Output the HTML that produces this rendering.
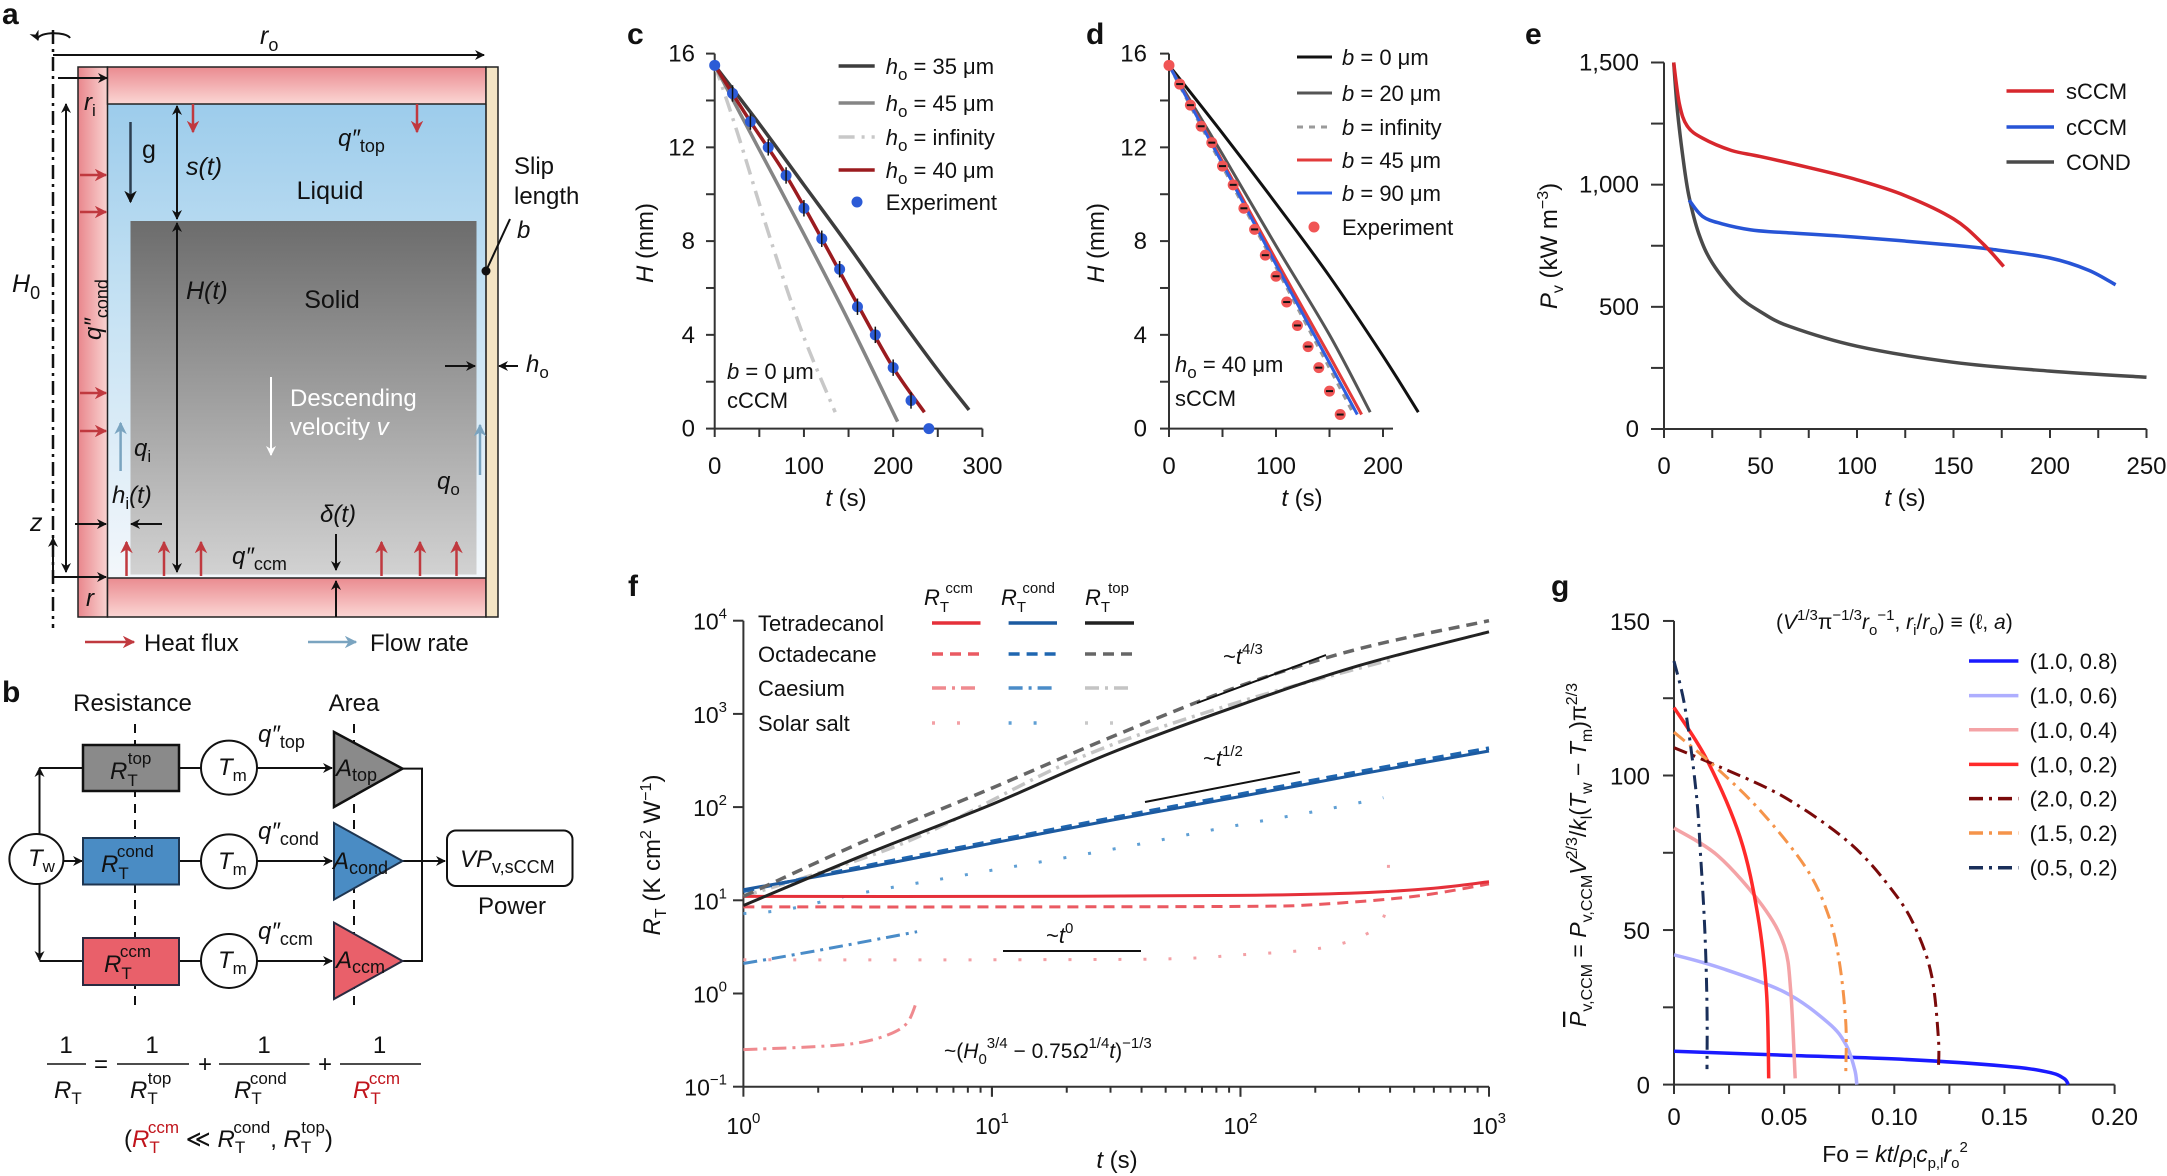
<!DOCTYPE html>
<html><head><meta charset="utf-8"><title>Figure</title>
<style>
html,body{margin:0;padding:0;background:#fff;}
svg{display:block;font-family:"Liberation Sans",Arial,sans-serif;}
text{fill:#111;}
</style></head>
<body>
<svg id="fig" xmlns="http://www.w3.org/2000/svg" width="2167" height="1176" viewBox="0 0 2167 1176">
<defs>
<linearGradient id="wallV" x1="0" x2="1" y1="0" y2="0"><stop offset="0" stop-color="#e9868c"/><stop offset="1" stop-color="#f9d3d1"/></linearGradient>
<linearGradient id="wallH" x1="0" x2="0" y1="0" y2="1"><stop offset="0" stop-color="#ea8b90"/><stop offset="1" stop-color="#fbd6d4"/></linearGradient>
<linearGradient id="liq" x1="0" x2="0" y1="0" y2="1"><stop offset="0" stop-color="#95c8ea"/><stop offset="0.45" stop-color="#c4e1f3"/><stop offset="1" stop-color="#f3f7fb"/></linearGradient>
<linearGradient id="sol" x1="0" x2="0" y1="0" y2="1"><stop offset="0" stop-color="#6c6c6c"/><stop offset="1" stop-color="#d2d2d2"/></linearGradient>
<marker id="ah" viewBox="0 0 10 10" refX="9" refY="5" markerWidth="5" markerHeight="5" orient="auto-start-reverse"><path d="M0,0 L10,5 L0,10 L3,5 z" fill="#111"/></marker>
<marker id="ahr" viewBox="0 0 10 10" refX="9" refY="5" markerWidth="5" markerHeight="5" orient="auto-start-reverse"><path d="M0,0 L10,5 L0,10 L3,5 z" fill="#c0393f"/></marker>
<marker id="ahb" viewBox="0 0 10 10" refX="9" refY="5" markerWidth="5" markerHeight="5" orient="auto-start-reverse"><path d="M0,0 L10,5 L0,10 L3,5 z" fill="#7aa4c0"/></marker>
<marker id="ahw" viewBox="0 0 10 10" refX="9" refY="5" markerWidth="5" markerHeight="5" orient="auto-start-reverse"><path d="M0,0 L10,5 L0,10 L3,5 z" fill="#fff"/></marker>
</defs>

<!-- ================= PANEL A ================= -->
<g>
<text x="2" y="24" font-size="30" font-weight="bold">a</text>
<path d="M38,40 A14,5 0 1 1 70,38" fill="none" stroke="#111" stroke-width="2" marker-start="url(#ah)"/>
<line x1="53" y1="30" x2="53" y2="628" stroke="#111" stroke-width="2.5" stroke-dasharray="14 5 3 5"/>
<line x1="53" y1="55" x2="484" y2="55" stroke="#111" stroke-width="2" marker-end="url(#ah)"/>
<text x="260" y="44" font-size="25" font-style="italic">r<tspan font-style="normal" font-size="18" dy="7">o</tspan></text>
<rect x="107" y="67" width="379" height="511" fill="url(#liq)"/>
<rect x="130.5" y="221" width="346" height="353.5" fill="url(#sol)"/>
<rect x="78" y="67" width="29.5" height="550" fill="url(#wallV)" stroke="#222" stroke-width="1.5"/>
<rect x="107.5" y="67" width="378.5" height="37" fill="url(#wallH)" stroke="#222" stroke-width="1.5"/>
<rect x="107.5" y="578" width="378.5" height="39" fill="url(#wallH)" stroke="#222" stroke-width="1.5"/>
<rect x="486" y="67" width="12" height="550" fill="#f4e4c4" stroke="#222" stroke-width="1.5"/>
<line x1="486" y1="104" x2="486" y2="578" stroke="#222" stroke-width="1.2"/>
<text x="330" y="199" font-size="25" text-anchor="middle">Liquid</text>
<text x="332" y="308" font-size="25" text-anchor="middle">Solid</text>
<text x="514" y="174" font-size="24">Slip</text>
<text x="514" y="204" font-size="24">length</text>
<text x="517" y="238" font-size="24" font-style="italic">b</text>
<line x1="510" y1="219" x2="486" y2="271" stroke="#111" stroke-width="2"/>
<circle cx="486" cy="271" r="4.5" fill="#111"/>
<text x="12" y="292" font-size="25" font-style="italic">H<tspan font-style="normal" font-size="18" dy="7">0</tspan></text>
<line x1="66" y1="104" x2="66" y2="572" stroke="#111" stroke-width="2" marker-start="url(#ah)" marker-end="url(#ah)"/>
<text transform="translate(101,340) rotate(-90)" font-size="24" font-style="italic">q″<tspan font-style="normal" font-size="18" dy="7">cond</tspan></text>
<line x1="58" y1="78" x2="107" y2="78" stroke="#111" stroke-width="2" marker-end="url(#ah)"/>
<text x="84" y="110" font-size="24" font-style="italic">r<tspan font-style="normal" font-size="17" dy="6">i</tspan></text>
<line x1="130.5" y1="122" x2="130.5" y2="202" stroke="#2c3e50" stroke-width="2.5" marker-end="url(#ah)"/>
<text x="142" y="158" font-size="25">g</text>
<line x1="177" y1="106" x2="177" y2="219" stroke="#111" stroke-width="2" marker-start="url(#ah)" marker-end="url(#ah)"/>
<text x="186" y="175" font-size="25" font-style="italic">s(t)</text>
<line x1="177" y1="223" x2="177" y2="572" stroke="#111" stroke-width="2" marker-start="url(#ah)" marker-end="url(#ah)"/>
<text x="186" y="299" font-size="25" font-style="italic">H(t)</text>
<g stroke="#c0393f" stroke-width="2.5">
<line x1="193" y1="104" x2="193" y2="132" marker-end="url(#ahr)"/><line x1="417" y1="104" x2="417" y2="132" marker-end="url(#ahr)"/>
<line x1="80" y1="175" x2="106" y2="175" marker-end="url(#ahr)"/><line x1="80" y1="212" x2="106" y2="212" marker-end="url(#ahr)"/>
<line x1="80" y1="393" x2="106" y2="393" marker-end="url(#ahr)"/><line x1="80" y1="431" x2="106" y2="431" marker-end="url(#ahr)"/>
<line x1="126.5" y1="576" x2="126.5" y2="542" marker-end="url(#ahr)"/><line x1="164" y1="576" x2="164" y2="542" marker-end="url(#ahr)"/>
<line x1="201" y1="576" x2="201" y2="542" marker-end="url(#ahr)"/><line x1="381.5" y1="576" x2="381.5" y2="542" marker-end="url(#ahr)"/>
<line x1="420" y1="576" x2="420" y2="542" marker-end="url(#ahr)"/><line x1="456.5" y1="576" x2="456.5" y2="542" marker-end="url(#ahr)"/>
</g>
<text x="338" y="146" font-size="24" font-style="italic">q″<tspan font-style="normal" font-size="18" dy="6">top</tspan></text>
<line x1="271" y1="377" x2="271" y2="455" stroke="#fff" stroke-width="2" marker-end="url(#ahw)"/>
<text x="290" y="406" font-size="24" fill="#fff" style="fill:#fff">Descending</text>
<text x="290" y="435" font-size="24" style="fill:#fff">velocity <tspan font-style="italic">v</tspan></text>
<line x1="120.6" y1="471" x2="120.6" y2="423" stroke="#7aa4c0" stroke-width="2.5" marker-end="url(#ahb)"/>
<line x1="480" y1="475" x2="480" y2="425" stroke="#7aa4c0" stroke-width="2.5" marker-end="url(#ahb)"/>
<text x="134" y="456" font-size="24" font-style="italic">q<tspan font-style="normal" font-size="17" dy="6">i</tspan></text>
<text x="437" y="489" font-size="24" font-style="italic">q<tspan font-style="normal" font-size="17" dy="6">o</tspan></text>
<text x="112" y="503" font-size="24" font-style="italic">h<tspan font-style="normal" font-size="17" dy="6">i</tspan><tspan dy="-6">(t)</tspan></text>
<line x1="162" y1="524" x2="131" y2="524" stroke="#111" stroke-width="2" marker-end="url(#ah)"/>
<text x="30" y="531" font-size="25" font-style="italic">z</text>
<line x1="75" y1="524" x2="106" y2="524" stroke="#111" stroke-width="2" marker-end="url(#ah)"/>
<line x1="53" y1="577" x2="53" y2="538" stroke="#111" stroke-width="2" marker-end="url(#ah)"/>
<line x1="53" y1="577" x2="106" y2="577" stroke="#111" stroke-width="2" marker-end="url(#ah)"/>
<text x="86" y="606" font-size="24" font-style="italic">r</text>
<text x="320" y="522" font-size="24" font-style="italic">δ(t)</text>
<line x1="336" y1="534" x2="336" y2="570" stroke="#111" stroke-width="2" marker-end="url(#ah)"/>
<line x1="336" y1="617" x2="336" y2="581" stroke="#111" stroke-width="2" marker-end="url(#ah)"/>
<text x="232" y="564" font-size="24" font-style="italic">q″<tspan font-style="normal" font-size="18" dy="6">ccm</tspan></text>
<line x1="445" y1="366" x2="475" y2="366" stroke="#111" stroke-width="2" marker-end="url(#ah)"/>
<line x1="518" y1="366" x2="499" y2="366" stroke="#111" stroke-width="2" marker-end="url(#ah)"/>
<text x="526" y="372" font-size="24" font-style="italic">h<tspan font-style="normal" font-size="17" dy="6">o</tspan></text>
<line x1="85" y1="642" x2="134" y2="642" stroke="#c0393f" stroke-width="2.5" marker-end="url(#ahr)"/>
<text x="144" y="651" font-size="24">Heat flux</text>
<line x1="308" y1="642" x2="356" y2="642" stroke="#7aa4c0" stroke-width="2.5" marker-end="url(#ahb)"/>
<text x="370" y="651" font-size="24">Flow rate</text>
</g>

<!-- ================= PANEL B ================= -->
<g font-size="24">
<text x="2" y="702" font-size="30" font-weight="bold">b</text>
<text x="132.5" y="711" text-anchor="middle">Resistance</text>
<text x="354" y="711" text-anchor="middle">Area</text>
<line x1="135" y1="724" x2="135" y2="1012" stroke="#111" stroke-width="2" stroke-dasharray="9 7"/>
<line x1="354" y1="724" x2="354" y2="1012" stroke="#111" stroke-width="2" stroke-dasharray="9 7"/>
<g stroke="#111" stroke-width="2" fill="none">
<line x1="39.5" y1="836" x2="39.5" y2="768" marker-end="url(#ah)"/><line x1="39.5" y1="882" x2="39.5" y2="960" marker-end="url(#ah)"/>
<line x1="39.5" y1="768" x2="83" y2="768"/><line x1="39.5" y1="961" x2="83" y2="961"/>
<line x1="63" y1="861" x2="82" y2="861" marker-end="url(#ah)"/>
<line x1="179" y1="768" x2="201" y2="768"/><line x1="179" y1="861" x2="201" y2="861"/><line x1="179" y1="961" x2="201" y2="961"/>
<line x1="257" y1="768" x2="332" y2="768" marker-end="url(#ah)"/><line x1="257" y1="861" x2="332" y2="861" marker-end="url(#ah)"/><line x1="257" y1="961" x2="332" y2="961" marker-end="url(#ah)"/>
<polyline points="402,768.6 422,768.6 422,961 402,961"/><line x1="402" y1="861" x2="445" y2="861" marker-end="url(#ah)"/>
</g>
<ellipse cx="36.4" cy="859" rx="27" ry="25" fill="#fff" stroke="#111" stroke-width="2"/>
<text x="28" y="866" font-style="italic">T<tspan font-style="normal" font-size="17" dy="6">w</tspan></text>
<rect x="83" y="745" width="96" height="46" fill="#8a8a8a" stroke="#111" stroke-width="2.5"/>
<rect x="83" y="838" width="96" height="46.5" fill="#4a8cc4" stroke="#1e3550" stroke-width="2"/>
<rect x="83" y="938" width="96" height="47" fill="#e9606a" stroke="#2a2a40" stroke-width="2"/>
<text x="110" y="779" font-style="italic">R<tspan font-style="normal" font-size="17" dy="7">T</tspan><tspan font-style="normal" font-size="17" dx="-10" dy="-22">top</tspan></text>
<text x="101" y="872" font-style="italic">R<tspan font-style="normal" font-size="17" dy="7">T</tspan><tspan font-style="normal" font-size="17" dx="-10" dy="-22">cond</tspan></text>
<text x="104" y="972" font-style="italic">R<tspan font-style="normal" font-size="17" dy="7">T</tspan><tspan font-style="normal" font-size="17" dx="-10" dy="-22">ccm</tspan></text>
<g fill="#fff" stroke="#111" stroke-width="2">
<ellipse cx="229" cy="767.6" rx="28" ry="27"/><ellipse cx="229" cy="861.4" rx="28" ry="27"/><ellipse cx="229" cy="961" rx="28" ry="27"/>
</g>
<text x="218" y="775" font-style="italic">T<tspan font-style="normal" font-size="17" dy="6">m</tspan></text>
<text x="218" y="869" font-style="italic">T<tspan font-style="normal" font-size="17" dy="6">m</tspan></text>
<text x="218" y="968" font-style="italic">T<tspan font-style="normal" font-size="17" dy="6">m</tspan></text>
<text x="258" y="742" font-style="italic">q″<tspan font-style="normal" font-size="18" dy="6">top</tspan></text>
<text x="258" y="839" font-style="italic">q″<tspan font-style="normal" font-size="18" dy="6">cond</tspan></text>
<text x="258" y="939" font-style="italic">q″<tspan font-style="normal" font-size="18" dy="6">ccm</tspan></text>
<polygon points="334,732 402.5,768.6 334,807" fill="#8a8a8a" stroke="#111" stroke-width="2.5"/>
<polygon points="334,823 402.5,861 334,899.6" fill="#4a8cc4" stroke="#1e3550" stroke-width="2"/>
<polygon points="334,922.6 402.5,961 334,999" fill="#e9606a" stroke="#2a2a40" stroke-width="2"/>
<text x="336" y="776" font-style="italic">A<tspan font-style="normal" font-size="18" dy="5">top</tspan></text>
<text x="333" y="869" font-style="italic">A<tspan font-style="normal" font-size="18" dy="5">cond</tspan></text>
<text x="336" y="968" font-style="italic">A<tspan font-style="normal" font-size="18" dy="5">ccm</tspan></text>
<rect x="447" y="830.5" width="125.5" height="55.5" rx="9" fill="#fff" stroke="#111" stroke-width="2"/>
<text x="460" y="867" font-style="italic">VP<tspan font-style="normal" font-size="18" dy="6">v,sCCM</tspan></text>
<text x="512" y="914" text-anchor="middle">Power</text>
<g>
<text x="66" y="1053" text-anchor="middle">1</text><line x1="47" y1="1064" x2="86" y2="1064" stroke="#111" stroke-width="1.5"/>
<text x="54" y="1098" font-style="italic">R<tspan font-style="normal" font-size="17" dy="6">T</tspan></text>
<text x="101" y="1072" text-anchor="middle">=</text>
<text x="152" y="1053" text-anchor="middle">1</text><line x1="117" y1="1064" x2="189" y2="1064" stroke="#111" stroke-width="1.5"/>
<text x="130" y="1098" font-style="italic">R<tspan font-style="normal" font-size="17" dy="6">T</tspan><tspan font-style="normal" font-size="17" dx="-10" dy="-20">top</tspan></text>
<text x="205" y="1072" text-anchor="middle">+</text>
<text x="264" y="1053" text-anchor="middle">1</text><line x1="219" y1="1064" x2="309.6" y2="1064" stroke="#111" stroke-width="1.5"/>
<text x="234" y="1098" font-style="italic">R<tspan font-style="normal" font-size="17" dy="6">T</tspan><tspan font-style="normal" font-size="17" dx="-10" dy="-20">cond</tspan></text>
<text x="325" y="1072" text-anchor="middle">+</text>
<text x="379.6" y="1053" text-anchor="middle">1</text><line x1="340" y1="1064" x2="421" y2="1064" stroke="#111" stroke-width="1.5"/>
<text x="353" y="1098" font-style="italic" style="fill:#c0141c">R<tspan font-style="normal" font-size="17" dy="6">T</tspan><tspan font-style="normal" font-size="17" dx="-10" dy="-20">ccm</tspan></text>
<text x="124" y="1147">(<tspan font-style="italic" style="fill:#c0141c">R</tspan><tspan font-size="17" dy="6" style="fill:#c0141c">T</tspan><tspan font-size="17" dx="-10" dy="-20" style="fill:#c0141c">ccm</tspan><tspan dy="14"> ≪ </tspan><tspan font-style="italic">R</tspan><tspan font-size="17" dy="6">T</tspan><tspan font-size="17" dx="-10" dy="-20">cond</tspan><tspan dy="14">, </tspan><tspan font-style="italic">R</tspan><tspan font-size="17" dy="6">T</tspan><tspan font-size="17" dx="-10" dy="-20">top</tspan><tspan dy="14">)</tspan></text>
</g>
</g>

<g id="charts"></g>
</svg>

<script>
// ---------- Panel c data ----------
const cT35 = [0, 50, 100, 150, 200, 250, 285];
const cH35 = [15.5, 13.0, 10.4, 7.8, 5.1, 2.5, 0.8];
const cT45 = [0, 50, 100, 150, 205];
const cH45 = [15.5, 11.9, 8.3, 4.6, 0.3];
const cTinf = [0, 11, 29, 64, 99, 135];
const cHinf = [15.5, 14.3, 12.2, 7.9, 4.0, 0.7];
const cT40 = [0, 40, 80, 120, 160, 200, 235];
const cH40 = [15.5, 13.1, 10.8, 8.1, 5.3, 2.6, 0.7];
const cExpT = [0, 20, 40, 60, 80, 100, 120, 140, 160, 180, 200, 220, 240];
const cExpH = [15.5, 14.3, 13.1, 12.0, 10.8, 9.4, 8.1, 6.8, 5.2, 4.0, 2.6, 1.2, 0.0];
const cXTicks = [0, 100, 200, 300];
const cYTicks = [0, 4, 8, 12, 16];
// ---------- Panel d data ----------
const dT0 = [0, 50, 100, 150, 200, 233];
const dH0 = [15.5, 12.6, 9.6, 6.5, 3.1, 0.7];
const dT20 = [0, 50, 100, 150, 188];
const dH20 = [15.5, 11.7, 7.8, 4.0, 0.7];
const dTinf = [0, 50, 100, 150, 173];
const dHinf = [15.5, 11.2, 6.9, 2.6, 0.6];
const dT45 = [0, 50, 100, 150, 180];
const dH45 = [15.5, 11.4, 7.2, 3.1, 0.6];
const dT90 = [0, 50, 100, 150, 176];
const dH90 = [15.5, 11.3, 7.0, 2.8, 0.6];
const dExpT = [0, 10, 20, 30, 40, 50, 60, 70, 80, 90, 100, 110, 120, 130, 140, 150, 160];
const dExpH = [15.5, 14.7, 13.8, 12.9, 12.2, 11.2, 10.4, 9.4, 8.5, 7.4, 6.5, 5.4, 4.4, 3.5, 2.6, 1.6, 0.6];
const dXTicks = [0, 100, 200];
// ---------- Panel e data ----------
const eTcond = [5, 7, 10, 13, 18, 25, 38, 50, 65, 100, 150, 200, 250];
const ePcond = [1500, 1300, 1100, 950, 800, 680, 550, 480, 420, 339, 273, 237, 212];
const eTc = [13, 20, 30, 45, 60, 100, 150, 170, 200, 220, 234];
const ePc = [937, 870, 840, 815, 805, 785, 752, 735, 700, 650, 590];
const eTs = [5, 8, 12, 20, 35, 50, 75, 100, 125, 150, 165, 176];
const ePs = [1500, 1330, 1240, 1190, 1140, 1115, 1070, 1020, 955, 860, 760, 665];
const eXTicks = [0, 50, 100, 150, 200, 250];
const eYTicks = [0, 500, 1000, 1500];
const eYLabels = ["0", "500", "1,000", "1,500"];
// ---------- Panel f data ----------
const fTopTetT = [1, 3, 10, 30, 100, 300, 1000];
const fTopTetR = [8.8, 30, 107, 380, 1250, 3300, 7600];
const fTopOctT = [1, 3, 10, 30, 100, 300, 1000];
const fTopOctR = [11, 42, 160, 560, 2000, 5000, 10000];
const fTopCsT = [1, 4.5, 22, 95, 400];
const fTopCsR = [11, 42, 330, 1300, 3800];
const fCondTetT = [1, 3, 10, 30, 100, 300, 1000];
const fCondTetR = [13, 22, 41, 72, 130, 225, 400];
const fCondOctT = [1, 3, 10, 30, 100, 300, 1000];
const fCondOctR = [12.5, 23, 43, 76, 138, 240, 430];
const fCondCsT = [1, 2, 5];
const fCondCsR = [2.1, 2.9, 4.6];
const fCondSsT = [1, 1.5, 3, 9, 30, 80, 200, 376];
const fCondSsR = [7.2, 8, 12, 20, 35, 58, 90, 126];
const fCcmTetT = [1, 10, 100, 300, 600, 1000];
const fCcmTetR = [11, 11, 11.3, 12, 13.5, 15.8];
const fCcmOctT = [1, 10, 100, 200, 500, 1000];
const fCcmOctR = [8.5, 8.5, 8.6, 9, 11, 15];
const fCcmCsT = [1, 2, 3, 4, 4.6, 5];
const fCcmCsR = [0.25, 0.27, 0.3, 0.38, 0.5, 0.85];
const fCcmSsT = [1, 10, 50, 100, 200, 300, 370, 390, 395];
const fCcmSsR = [2.3, 2.3, 2.35, 2.6, 3.0, 4.0, 6, 12, 35];
const fYExp = [-1, 0, 1, 2, 3, 4];
const fXExp = [0, 1, 2, 3];
// ---------- Panel g data ----------
const gF08 = [0, 0.05, 0.1, 0.15, 0.17, 0.177, 0.179];
const gP08 = [10.8, 9.5, 8.3, 6, 4, 2, 0];
const gF06 = [0, 0.02, 0.05, 0.07, 0.078, 0.082, 0.083];
const gP06 = [42, 38, 30, 20, 13, 5, 0];
const gF04 = [0, 0.02, 0.04, 0.05, 0.053, 0.055];
const gP04 = [83, 74, 58, 45, 30, 2];
const gF02 = [0, 0.015, 0.03, 0.038, 0.042, 0.043];
const gP02 = [122, 105, 80, 55, 30, 2];
const gF20 = [0, 0.02, 0.05, 0.08, 0.1, 0.11, 0.117, 0.12, 0.12];
const gP20 = [109, 103, 93, 78, 62, 50, 35, 15, 5];
const gF15 = [0, 0.02, 0.04, 0.06, 0.07, 0.075, 0.078, 0.078];
const gP15 = [114, 102, 88, 70, 55, 40, 20, 4];
const gF05 = [0, 0.005, 0.01, 0.012, 0.014, 0.015, 0.015];
const gP05 = [137, 122, 95, 75, 50, 25, 5];
const gXTicks = [0, 0.05, 0.1, 0.15, 0.2];
const gXLabels = ["0", "0.05", "0.10", "0.15", "0.20"];
const gYTicks = [0, 50, 100, 150];
const gLegendLabels = ["(1.0, 0.8)", "(1.0, 0.6)", "(1.0, 0.4)", "(1.0, 0.2)", "(2.0, 0.2)", "(1.5, 0.2)", "(0.5, 0.2)"];

// ---------- axis functions ----------
const xC = t => 714.7 + t * (982.4 - 714.7) / 300;
const yH = h => 428.6 - h * (428.6 - 53.6) / 16;
const xD = t => 1169 + t * (1383 - 1169) / 200;
const xE = t => 1664 + t * (2146.5 - 1664) / 250;
const yE = p => 429 - p * (429 - 62.5) / 1500;
const xF = t => 743.4 + Math.log10(t) * (1489 - 743.4) / 3;
const yF = r => 993.5 - Math.log10(r) * 93.2;
const xG = f => 1674 + f * (440.6 / 0.2);
const yG = p => 1084.6 - p * 3.091;

const NS = "http://www.w3.org/2000/svg";
const root = document.getElementById("charts");
function el(tag, attrs, parent) {
  const e = document.createElementNS(NS, tag);
  for (const k in attrs) e.setAttribute(k, attrs[k]);
  (parent || root).appendChild(e);
  return e;
}
function smoothPath(pts) {
  let d = "M" + pts[0][0].toFixed(1) + "," + pts[0][1].toFixed(1);
  for (let i = 0; i < pts.length - 1; i++) {
    const p0 = pts[i - 1] || pts[i], p1 = pts[i], p2 = pts[i + 1], p3 = pts[i + 2] || p2;
    const c1 = [p1[0] + (p2[0] - p0[0]) / 6, p1[1] + (p2[1] - p0[1]) / 6];
    const c2 = [p2[0] - (p3[0] - p1[0]) / 6, p2[1] - (p3[1] - p1[1]) / 6];
    d += "C" + c1.map(v => v.toFixed(1)) + " " + c2.map(v => v.toFixed(1)) + " " + p2.map(v => v.toFixed(1));
  }
  return d;
}
function series(xs, ys, fx, fy, color, width, dash, name) {
  const pts = xs.map((x, i) => [fx(x), fy(ys[i])]);
  const p = el("path", {d: smoothPath(pts), fill: "none", stroke: color, "stroke-width": width, "stroke-dasharray": dash || "none"});
  
  
  return p;
}
function txt(x, y, s, size, anchor, name, extra) {
  const t = el("text", Object.assign({x: x, y: y, "font-size": size, "text-anchor": anchor || "start"}, extra || {}));
  t.innerHTML = s;
  
  
  return t;
}
function line(x1, y1, x2, y2, color, w, dash, name) {
  const l = el("line", {x1: x1, y1: y1, x2: x2, y2: y2, stroke: color, "stroke-width": w, "stroke-dasharray": dash || "none"});
  
  
  return l;
}
const AX = "#333";

// ================= Panel c =================
txt(627, 44, "c", 30, "start", "panel-c-label", {"font-weight": "bold"});
line(714.7, 428.6, 714.7, 53.6, AX, 2, null, "c-y-axis");
line(714.7, 428.6, 982.4, 428.6, AX, 2, null, "c-x-axis");
for (let h = 0; h <= 16; h += 2) line(706, yH(h), 714.7, yH(h), AX, 2, null, "c-y-tick");
for (let t = 0; t <= 300; t += 50) line(xC(t), 428.6, xC(t), 437, AX, 2, null, "c-x-tick");
cYTicks.forEach(v => txt(695, yH(v) + 8, v, 24, "end", "c-y-tick-label"));
cXTicks.forEach(v => txt(xC(v), 474, v, 24, "middle", "c-x-tick-label"));
txt(846, 506, "<tspan font-style='italic'>t</tspan> (s)", 24, "middle", "c-x-axis-title");
txt(0, 0, "<tspan font-style='italic'>H</tspan> (mm)", 24, "middle", "c-y-axis-title", {transform: "translate(653,243) rotate(-90)"});
series(cTinf, cHinf, xC, yH, "#c8c8c8", 3.5, "16 7 3 7", "c-curve-ho-infinity");
series(cT45, cH45, xC, yH, "#858585", 3.5, null, "c-curve-ho-45");
series(cT35, cH35, xC, yH, "#3d3d3d", 3.5, null, "c-curve-ho-35");
series(cT40, cH40, xC, yH, "#9b1b1f", 3.5, null, "c-curve-ho-40");
cExpT.forEach((t, i) => {
  const c = el("circle", {cx: xC(t), cy: yH(cExpH[i]), r: 5.5, fill: "#2c5bd6"});
  
  
  if (i > 0 && i < cExpT.length - 1) {
    line(xC(t), yH(cExpH[i] + 0.35), xC(t), yH(cExpH[i] - 0.35), "#111", 1.5, null, "c-error-bar");
  }
});
[["#3d3d3d", null, "35 μm", 66],
 ["#858585", null, "45 μm", 103],
 ["#c8c8c8", "16 7 3 7", "infinity", 137],
 ["#9b1b1f", null, "40 μm", 170]].forEach(r => {
  line(838.6, r[3], 874.7, r[3], r[0], 3.5, r[1], "c-legend-line");
  txt(885.7, r[3] + 8, "<tspan font-style='italic'>h</tspan><tspan font-size='17' dy='6'>o</tspan><tspan dy='-6'> = " + r[2] + "</tspan>", 22, "start", "c-legend-entry");
});
const cl = el("circle", {cx: 857, cy: 202, r: 5.5, fill: "#2c5bd6"});


txt(885.7, 210, "Experiment", 22, "start", "c-legend-entry");
txt(727, 379, "<tspan font-style='italic'>b</tspan> = 0 μm", 22, "start", "c-annotation-b");
txt(727, 408, "cCCM", 22, "start", "c-annotation-ccm");

// ================= Panel d =================
txt(1086, 44, "d", 30, "start", "panel-d-label", {"font-weight": "bold"});
line(1169, 428.6, 1169, 53.6, AX, 2, null, "d-y-axis");
line(1169, 428.6, 1393, 428.6, AX, 2, null, "d-x-axis");
for (let h = 0; h <= 16; h += 2) line(1160, yH(h), 1169, yH(h), AX, 2, null, "d-y-tick");
for (let t = 0; t <= 200; t += 50) line(xD(t), 428.6, xD(t), 437, AX, 2, null, "d-x-tick");
cYTicks.forEach(v => txt(1147, yH(v) + 8, v, 24, "end", "d-y-tick-label"));
dXTicks.forEach(v => txt(xD(v), 474, v, 24, "middle", "d-x-tick-label"));
txt(1302, 506, "<tspan font-style='italic'>t</tspan> (s)", 24, "middle", "d-x-axis-title");
txt(0, 0, "<tspan font-style='italic'>H</tspan> (mm)", 24, "middle", "d-y-axis-title", {transform: "translate(1104,243) rotate(-90)"});
series(dT0, dH0, xD, yH, "#111", 3, null, "d-curve-b-0");
series(dT20, dH20, xD, yH, "#555", 3, null, "d-curve-b-20");
series(dTinf, dHinf, xD, yH, "#9a9a9a", 3.5, "6 6", "d-curve-b-infinity");
series(dT45, dH45, xD, yH, "#e23b3b", 3, null, "d-curve-b-45");
series(dT90, dH90, xD, yH, "#2f5fe0", 3, null, "d-curve-b-90");
dExpT.forEach((t, i) => {
  const c = el("circle", {cx: xD(t), cy: yH(dExpH[i]), r: 5.5, fill: "#f05555"});
  
  
  if (i > 0) line(xD(t) - 3.5, yH(dExpH[i]), xD(t) + 3.5, yH(dExpH[i]), "#111", 2, null, "d-error-bar");
});
[["#111", null, "0 μm", 57], ["#555", null, "20 μm", 93], ["#9a9a9a", "6 6", "infinity", 127], ["#e23b3b", null, "45 μm", 160], ["#2f5fe0", null, "90 μm", 193]].forEach(r => {
  line(1297, r[3], 1332, r[3], r[0], 3, r[1], "d-legend-line");
  txt(1342, r[3] + 8, "<tspan font-style='italic'>b</tspan> = " + r[2], 22, "start", "d-legend-entry");
});
const dl = el("circle", {cx: 1314, cy: 227, r: 5.5, fill: "#f05555"});


txt(1342, 235, "Experiment", 22, "start", "d-legend-entry");
txt(1175, 372, "<tspan font-style='italic'>h</tspan><tspan font-size='17' dy='6'>o</tspan><tspan dy='-6'> = 40 μm</tspan>", 22, "start", "d-annotation-ho");
txt(1175, 406, "sCCM", 22, "start", "d-annotation-sccm");

// ================= Panel e =================
txt(1525, 44, "e", 30, "start", "panel-e-label", {"font-weight": "bold"});
line(1664, 429, 1664, 62.5, AX, 2, null, "e-y-axis");
line(1664, 429, 2146.5, 429, AX, 2, null, "e-x-axis");
for (let p = 0; p <= 1500; p += 250) line(1651, yE(p), 1664, yE(p), AX, 2, null, "e-y-tick");
for (let t = 0; t <= 250; t += 25) line(xE(t), 429, xE(t), 438, AX, 2, null, "e-x-tick");
eYTicks.forEach((v, i) => txt(1639, yE(v) + 8, eYLabels[i], 24, "end", "e-y-tick-label"));
eXTicks.forEach(v => txt(xE(v), 474, v, 24, "middle", "e-x-tick-label"));
txt(1905, 506, "<tspan font-style='italic'>t</tspan> (s)", 24, "middle", "e-x-axis-title");
txt(0, 0, "<tspan font-style='italic'>P</tspan><tspan font-size='16' dy='6'>v</tspan><tspan dy='-6'> (kW m</tspan><tspan font-size='16' dy='-9'>−3</tspan><tspan dy='9'>)</tspan>", 24, "middle", "e-y-axis-title", {transform: "translate(1557,246) rotate(-90)"});
series(eTcond, ePcond, xE, yE, "#4a4a4a", 3.5, null, "e-curve-cond");
series(eTc, ePc, xE, yE, "#2754d6", 3.5, null, "e-curve-cccm");
series(eTs, ePs, xE, yE, "#d7272d", 3.5, null, "e-curve-sccm");
[["#d7272d", "sCCM", 91], ["#2754d6", "cCCM", 127], ["#4a4a4a", "COND", 162]].forEach(r => {
  line(2006.5, r[2], 2054, r[2], r[0], 3.5, null, "e-legend-line");
  txt(2066, r[2] + 8, r[1], 22, "start", "e-legend-entry");
});

// ================= Panel f =================
txt(628, 596, "f", 30, "start", "panel-f-label", {"font-weight": "bold"});
line(743.4, 1086.7, 743.4, 620.7, AX, 2, null, "f-y-axis");
line(743.4, 1086.7, 1489, 1086.7, AX, 2, null, "f-x-axis");
fYExp.forEach(e => {
  line(733, yF(Math.pow(10, e)), 743.4, yF(Math.pow(10, e)), AX, 2, null, "f-y-tick");
  txt(727, yF(Math.pow(10, e)) + 9, "10<tspan font-size='15' dy='-11'>" + (e < 0 ? "−" + (-e) : e) + "</tspan>", 23, "end", "f-y-tick-label");
});
for (let d = 0; d < 3; d++) for (let m = 1; m <= 10; m++) {
  const t = m * Math.pow(10, d);
  line(xF(t), 1086.7, xF(t), 1086.7 + (m === 1 || m === 10 ? 10 : 6), AX, 2, null, "f-x-tick");
}
fXExp.forEach(e => txt(xF(Math.pow(10, e)), 1134, "10<tspan font-size='15' dy='-11'>" + e + "</tspan>", 23, "middle", "f-x-tick-label"));
txt(1117, 1168, "<tspan font-style='italic'>t</tspan> (s)", 24, "middle", "f-x-axis-title");
txt(0, 0, "<tspan font-style='italic'>R</tspan><tspan font-size='16' dy='6'>T</tspan><tspan dy='-6'> (K cm</tspan><tspan font-size='16' dy='-9'>2</tspan><tspan dy='9'> W</tspan><tspan font-size='16' dy='-9'>−1</tspan><tspan dy='9'>)</tspan>", 24, "middle", "f-y-axis-title", {transform: "translate(660,855) rotate(-90)"});
const DASH = "11 7", DDOT = "14 6 3 6", DOT = "3 22";
series(fCcmSsT, fCcmSsR, xF, yF, "#f3a0a5", 3, DOT, "f-solar-salt-ccm");
series(fCondSsT, fCondSsR, xF, yF, "#5f9fd4", 3, DOT, "f-solar-salt-cond");
series(fCcmCsT, fCcmCsR, xF, yF, "#ef8a8f", 3, DDOT, "f-caesium-ccm");
series(fCondCsT, fCondCsR, xF, yF, "#4a8cc8", 3, DDOT, "f-caesium-cond");
series(fTopCsT, fTopCsR, xF, yF, "#c4c4c4", 3.5, DDOT, "f-caesium-top");
series(fCcmOctT, fCcmOctR, xF, yF, "#ea5a62", 3, DASH, "f-octadecane-ccm");
series(fCcmTetT, fCcmTetR, xF, yF, "#e5303a", 3, null, "f-tetradecanol-ccm");
series(fCondOctT, fCondOctR, xF, yF, "#1f66b0", 3.5, DASH, "f-octadecane-cond");
series(fCondTetT, fCondTetR, xF, yF, "#1c5aa0", 3, null, "f-tetradecanol-cond");
series(fTopOctT, fTopOctR, xF, yF, "#666", 3.5, DASH, "f-octadecane-top");
series(fTopTetT, fTopTetR, xF, yF, "#222", 3, null, "f-tetradecanol-top");
const fRows = [["Tetradecanol", null, 623], ["Octadecane", DASH, 654], ["Caesium", DDOT, 688], ["Solar salt", DOT, 723]];
const fColors = [["#e5303a", "#1c5aa0", "#222"], ["#ea5a62", "#1f66b0", "#666"], ["#ef8a8f", "#4a8cc8", "#c4c4c4"], ["#f3a0a5", "#5f9fd4", "#c8c8c8"]];
fRows.forEach((r, i) => {
  txt(758, r[2] + 8, r[0], 22, "start", "f-legend-material");
  line(932, r[2], 980.5, r[2], fColors[i][0], 3.5, r[1], "f-legend-line-ccm");
  line(1008.6, r[2], 1057, r[2], fColors[i][1], 3.5, r[1], "f-legend-line-cond");
  line(1085, r[2], 1134, r[2], fColors[i][2], 3.5, r[1], "f-legend-line-top");
});
[["ccm", 924], ["cond", 1001], ["top", 1085]].forEach(h => txt(h[1], 605, "<tspan font-style='italic'>R</tspan><tspan font-size='15' dy='7'>T</tspan><tspan font-size='15' dx='-2' dy='-19'>" + h[0] + "</tspan>", 22, "start", "f-legend-header"));
line(1197, 703, 1326, 655, "#111", 2, null, "f-slope-line-4-3");
txt(1223, 664, "~<tspan font-style='italic'>t</tspan><tspan font-size='15' dy='-10'>4/3</tspan>", 22, "start", "f-slope-label-4-3");
line(1145, 802, 1300, 772, "#111", 2, null, "f-slope-line-1-2");
txt(1203, 766, "~<tspan font-style='italic'>t</tspan><tspan font-size='15' dy='-10'>1/2</tspan>", 22, "start", "f-slope-label-1-2");
line(1003, 951, 1141, 951, "#111", 2, null, "f-slope-line-0");
txt(1046, 943, "~<tspan font-style='italic'>t</tspan><tspan font-size='15' dy='-10'>0</tspan>", 22, "start", "f-slope-label-0");
txt(944, 1058, "~(<tspan font-style='italic'>H</tspan><tspan font-size='15' dy='6'>0</tspan><tspan font-size='15' dy='-16'>3/4</tspan><tspan dy='10'> − 0.75</tspan><tspan font-style='italic'>Ω</tspan><tspan font-size='15' dy='-10'>1/4</tspan><tspan dy='10' font-style='italic'>t</tspan>)<tspan font-size='15' dy='-10'>−1/3</tspan>", 21, "start", "f-formula-annotation");

// ================= Panel g =================
txt(1551, 596, "g", 30, "start", "panel-g-label", {"font-weight": "bold"});
line(1674, 1084.6, 1674, 620.9, AX, 2, null, "g-y-axis");
line(1674, 1084.6, 2114.6, 1084.6, AX, 2, null, "g-x-axis");
for (let p = 0; p <= 150; p += 25) line(1663, yG(p), 1674, yG(p), AX, 2, null, "g-y-tick");
for (let f = 0; f <= 0.2001; f += 0.025) line(xG(f), 1084.6, xG(f), 1094, AX, 2, null, "g-x-tick");
gYTicks.forEach(v => txt(1650, yG(v) + 9, v, 24, "end", "g-y-tick-label"));
gXTicks.forEach((v, i) => txt(xG(v), 1125, gXLabels[i], 24, "middle", "g-x-tick-label"));
txt(1895, 1162, "Fo = <tspan font-style='italic'>kt</tspan>/<tspan font-style='italic'>ρ</tspan><tspan font-size='15' dy='6'>l</tspan><tspan dy='-6' font-style='italic'>c</tspan><tspan font-size='15' dy='6'>p,l</tspan><tspan dy='-6' font-style='italic'>r</tspan><tspan font-size='15' dy='6'>o</tspan><tspan font-size='15' dy='-16'>2</tspan>", 23, "middle", "g-x-axis-title");
txt(0, 0, "<tspan font-style='italic' text-decoration='overline'>P</tspan><tspan font-size='16' dy='6'>v,CCM</tspan><tspan dy='-6'> = </tspan><tspan font-style='italic'>P</tspan><tspan font-size='16' dy='6'>v,CCM</tspan><tspan dy='-6' font-style='italic'>V</tspan><tspan font-size='16' dy='-9'>2/3</tspan><tspan dy='9'>/</tspan><tspan font-style='italic'>k</tspan><tspan font-size='16' dy='6'>l</tspan><tspan dy='-6'>(</tspan><tspan font-style='italic'>T</tspan><tspan font-size='16' dy='6'>w</tspan><tspan dy='-6'> − </tspan><tspan font-style='italic'>T</tspan><tspan font-size='16' dy='6'>m</tspan><tspan dy='-6'>)π</tspan><tspan font-size='16' dy='-9'>2/3</tspan>", 23, "middle", "g-y-axis-title", {transform: "translate(1586,855) rotate(-90)"});
txt(1776, 629, "(<tspan font-style='italic'>V</tspan><tspan font-size='15' dy='-9'>1/3</tspan><tspan dy='9'>π</tspan><tspan font-size='15' dy='-9'>−1/3</tspan><tspan dy='9' font-style='italic'>r</tspan><tspan font-size='15' dy='6'>o</tspan><tspan font-size='15' dy='-15'>−1</tspan><tspan dy='9'>, </tspan><tspan font-style='italic'>r</tspan><tspan font-size='15' dy='6'>i</tspan><tspan dy='-6'>/</tspan><tspan font-style='italic'>r</tspan><tspan font-size='15' dy='6'>o</tspan><tspan dy='-6'>) ≡ (ℓ, </tspan><tspan font-style='italic'>a</tspan>)", 21, "start", "g-legend-title");
const gCol = ["#1a1aff", "#aeaeff", "#f4a3a6", "#ff2a2a", "#7a0a0a", "#f5944a", "#1a2f5a"];
const gDash = [null, null, null, null, "14 6 3 6", "14 6 3 6", "14 6 3 6"];
series(gF08, gP08, xG, yG, gCol[0], 3.5, gDash[0], "g-curve-1-0-0-8");
series(gF06, gP06, xG, yG, gCol[1], 3.5, gDash[1], "g-curve-1-0-0-6");
series(gF04, gP04, xG, yG, gCol[2], 3.5, gDash[2], "g-curve-1-0-0-4");
series(gF02, gP02, xG, yG, gCol[3], 3.5, gDash[3], "g-curve-1-0-0-2");
series(gF20, gP20, xG, yG, gCol[4], 3, gDash[4], "g-curve-2-0-0-2");
series(gF15, gP15, xG, yG, gCol[5], 3, gDash[5], "g-curve-1-5-0-2");
series(gF05, gP05, xG, yG, gCol[6], 3, gDash[6], "g-curve-0-5-0-2");
const gRowY = [661, 695.6, 729.8, 764.4, 798.6, 833, 867.7];
gLegendLabels.forEach((s, i) => {
  line(1969, gRowY[i], 2018.4, gRowY[i], gCol[i], 3.5, gDash[i], "g-legend-line");
  txt(2029.6, gRowY[i] + 8, s, 22, "start", "g-legend-entry");
});
</script>
</body></html>
